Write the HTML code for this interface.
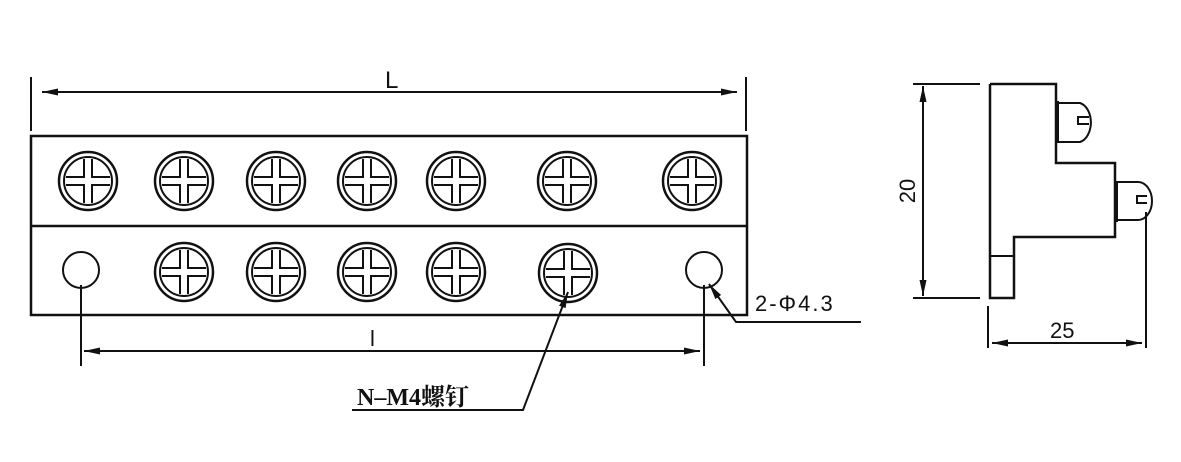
<!DOCTYPE html>
<html><head><meta charset="utf-8"><style>
html,body{margin:0;padding:0;background:#fff;}
svg{display:block;}
</style></head><body>
<svg width="1181" height="462" viewBox="0 0 1181 462" xmlns="http://www.w3.org/2000/svg">
<defs>
<g id="s">
<circle r="29" fill="none" stroke="#111" stroke-width="2.5"/>
<circle r="24" fill="none" stroke="#111" stroke-width="2"/>
<path d="M-4,-22 V-4 H-22 M4,-22 V-4 H22 M-22,4 H-4 V22 M22,4 H4 V22" fill="none" stroke="#111" stroke-width="2"/>
</g>
<marker id="a" viewBox="0 0 16 8" refX="16" refY="4" markerWidth="16" markerHeight="8" markerUnits="userSpaceOnUse" orient="auto-start-reverse"><path d="M0,0.5 L16,4 L0,7.5 z" fill="#111"/></marker>
</defs>
<g stroke="#111" stroke-width="2" fill="none">
<line x1="31" y1="77" x2="31" y2="131"/>
<line x1="746" y1="77" x2="746" y2="131"/>
<line x1="42" y1="92" x2="737" y2="92" marker-start="url(#a)" marker-end="url(#a)"/>
<rect x="31" y="136" width="716" height="179" stroke-width="2.5"/>
<line x1="31" y1="226" x2="747" y2="226" stroke-width="2.5"/>
<circle cx="81" cy="270" r="18"/>
<circle cx="704" cy="270" r="18"/>
<line x1="81" y1="285" x2="81" y2="366"/>
<line x1="704" y1="285" x2="704" y2="366"/>
<line x1="84" y1="351" x2="700" y2="351" marker-start="url(#a)" marker-end="url(#a)"/>
<polyline points="352,410 523,410 568,292" marker-end="url(#a)"/>
<polyline points="861,322 736,322 709,284" marker-end="url(#a)"/>
<line x1="913" y1="84" x2="980" y2="84"/>
<line x1="913" y1="298" x2="980" y2="298"/>
<line x1="923" y1="86" x2="923" y2="296" marker-start="url(#a)" marker-end="url(#a)"/>
<polyline points="990,84 1056,84 1056,163 1115,163 1115,237 1014,237 1014,298 990,298 990,84" stroke-width="2.5"/>
<line x1="990" y1="256" x2="1014" y2="256"/>
<line x1="1057" y1="101" x2="1057" y2="143" stroke-width="4"/>
<path d="M1059,103 H1080 A14,20 0 0 1 1080,142 H1059 M1089,117 H1078 V124 H1089" />
<line x1="1116" y1="181" x2="1116" y2="222" stroke-width="4"/>
<path d="M1118,182 H1138 A14,19 0 0 1 1138,220 H1118 M1147,196 H1137 V203 H1147"/>
<line x1="988" y1="306" x2="988" y2="348"/>
<line x1="1146" y1="212" x2="1146" y2="348"/>
<line x1="992" y1="343" x2="1142" y2="343" marker-start="url(#a)" marker-end="url(#a)"/>
</g>
<use href="#s" x="88" y="181"/><use href="#s" x="184" y="181"/><use href="#s" x="276" y="181"/>
<use href="#s" x="367" y="181"/><use href="#s" x="456" y="181"/><use href="#s" x="567" y="181"/><use href="#s" x="692" y="181"/>
<use href="#s" x="184" y="272"/><use href="#s" x="276" y="272"/><use href="#s" x="367" y="272"/>
<use href="#s" x="456" y="272"/><use href="#s" x="568" y="273"/>
<g font-family="Liberation Sans, sans-serif" fill="#111">
<text x="385" y="88" font-size="24">L</text>
<text x="370" y="346" font-size="22">l</text>
<text x="755" y="311" font-size="22" letter-spacing="2">2-Φ4.3</text>
<text x="1050" y="338" font-size="22">25</text>
<text transform="translate(915,191) rotate(-90)" font-size="22" text-anchor="middle">20</text>
<text x="357" y="405" font-size="24" font-weight="bold" font-family="Liberation Serif, 'Noto Serif CJK SC', serif">N–M4螺钉</text>
</g>
</svg>
</body></html>
